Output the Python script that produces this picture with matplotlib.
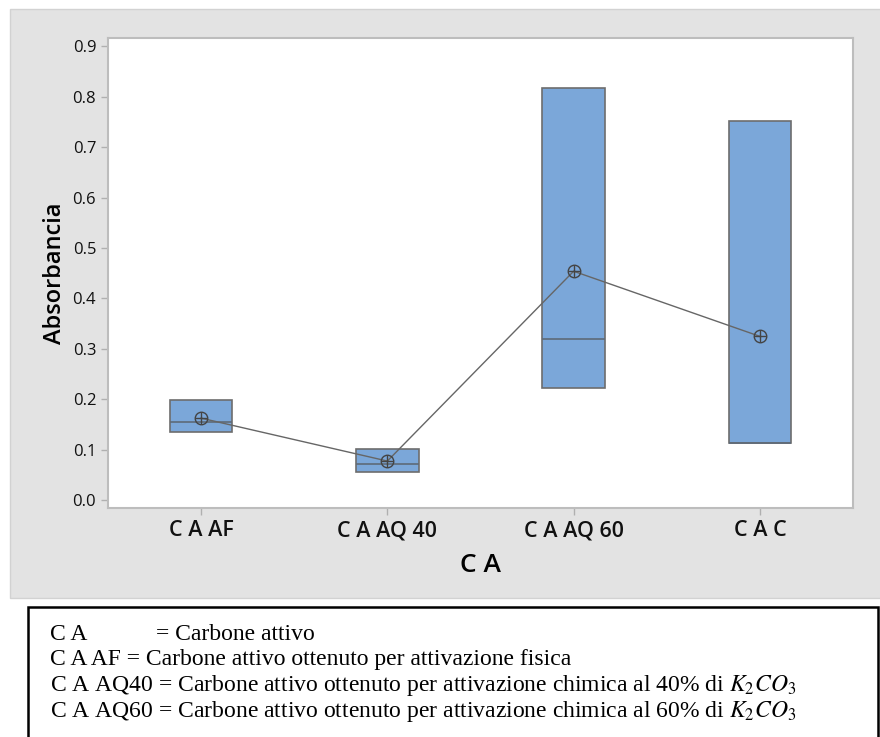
import matplotlib.pyplot as plt
from matplotlib.patches import Rectangle

# Dati
categorie = ['C A AF', 'C A AQ 40', 'C A AQ 60', 'C A C']
q1 = [0.135, 0.056, 0.222, 0.113]
mediana = [0.155, 0.073, 0.319, 0.113]
q3 = [0.198, 0.101, 0.817, 0.751]
medie = [0.163, 0.078, 0.454, 0.325]
legenda = ['= Carbone attivo ottenuto per attivazione fisica',
           '= Carbone attivo ottenuto per attivazione chimica al 40% di $K_2CO_3$',
           '= Carbone attivo ottenuto per attivazione chimica al 60% di $K_2CO_3$']
sigle = ['C A AF', 'C A AQ40', 'C A AQ60']

plt.rcParams['mathtext.fontset'] = 'stix'

W, H = 880, 737
fig = plt.figure(figsize=(W / 100, H / 100), dpi=100)
fig.patch.set_facecolor('white')

# pannello grigio
fig.patches.append(Rectangle((10 / W, 1 - 598 / H), 1, (598 - 9) / H, transform=fig.transFigure,
                             facecolor='#e3e3e3', edgecolor='#d2d2d2', lw=1, zorder=-2))

ax = fig.add_axes([108 / W, 1 - 508 / H, (853 - 108) / W, (508 - 38) / H])
ax.set_zorder(2)
ax.set_facecolor('white')

stats = []
for i in range(len(categorie)):
    stats.append(dict(q1=q1[i], med=mediana[i], q3=q3[i], whislo=q1[i], whishi=q3[i],
                      mean=medie[i], fliers=[]))
pos = list(range(1, len(categorie) + 1))
ax.bxp(stats, positions=pos, widths=0.335, patch_artist=True, showcaps=False,
       showfliers=False, showmeans=False,
       boxprops=dict(facecolor='#7ba7d9', edgecolor='#6d6d6d', lw=1.2),
       medianprops=dict(color='#5e6a78', lw=1.2),
       whiskerprops=dict(color='#6d6d6d', lw=0))

ax.plot(pos, medie, color='#666666', lw=1, zorder=3)
ax.plot(pos, medie, 'o', ms=9, mfc='none', mec='#444444', mew=1, zorder=4)
ax.plot(pos, medie, '+', ms=9, mec='#444444', mew=1, zorder=4)

ax.set_xlim(0.5, 4.5)
ax.set_ylim(-0.015, 0.916)
ax.set_yticks([i / 10 for i in range(10)])
ax.set_yticklabels([f'{i / 10:.1f}' for i in range(10)], fontsize=12, family='Open Sans')
ax.set_xticks(pos)
ax.set_xticklabels(categorie, fontsize=15.5, family='Open Sans', fontweight='semibold')
for s in ax.spines.values():
    s.set_color('#bdbdbd')
    s.set_linewidth(1.5)
ax.tick_params(colors='#b0b0b0', labelcolor='#111111', length=5, width=1)
ax.tick_params(axis='x', pad=4)
ax.set_ylabel('Absorbancia', fontsize=17, family='Open Sans', fontweight='semibold', labelpad=4)
ax.set_xlabel('C A', fontsize=19, family='Open Sans', fontweight='semibold', labelpad=8)

# riquadro della legenda
fig.patches.append(Rectangle((28 / W, -0.05), (878 - 28) / W, 1 - 607 / H + 0.05,
                             transform=fig.transFigure, facecolor='white',
                             edgecolor='black', lw=1.8, zorder=1))
fnt = dict(family='Liberation Serif', fontsize=17, va='center', ha='left')
fig.text(50 / W, 1 - 634 / H, 'C A', **fnt)
fig.text(156 / W, 1 - 634 / H, '= Carbone attivo', **fnt)
for j, (sg, tx) in enumerate(zip(sigle, legenda)):
    fig.text(50 / W, 1 - (660 + 26 * j) / H, sg + ' ' + tx, **fnt)

fig.savefig('out.png', dpi=100)
